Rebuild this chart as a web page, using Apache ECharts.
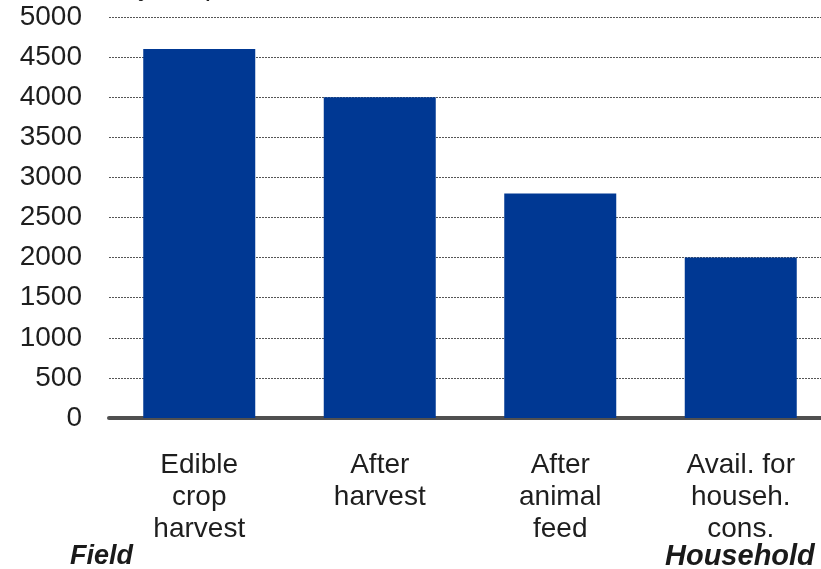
<!DOCTYPE html>
<html>
<head>
<meta charset="utf-8">
<script src="https://cdn.jsdelivr.net/npm/echarts@6/dist/echarts.min.js"></script>
<style>
  html, body { margin: 0; padding: 0; background: #fff; overflow: hidden; }
  /* the plot runs slightly past the right edge of the window */
  #chart { width: 832px; height: 569px; }
</style>
</head>
<body>
<div id="chart"></div>
<script>
// Food energy available at each stage, from field to household
const categories = ['Edible\ncrop\nharvest', 'After\nharvest', 'After\nanimal\nfeed', 'Avail. for\nhouseh.\ncons.'];
const kcalValues = [4600, 4000, 2800, 2000];
const yTicks = { min: 0, max: 5000, step: 500 };
const unitTitle = 'Kcal / day / cap';
const endLabels = ['Field', 'Household'];

const FONT = '"Liberation Sans", Arial, sans-serif';
const chart = echarts.init(document.getElementById('chart'), null, { renderer: 'canvas' });

chart.setOption({
  animation: false,
  backgroundColor: '#ffffff',
  grid: { left: 109, width: 722, top: 17, bottom: 151, containLabel: false },
  xAxis: {
    type: 'category',
    data: categories,
    axisLine: { show: true, lineStyle: { color: '#505050', width: 4 } },
    axisTick: { show: false },
    axisLabel: {
      interval: 0,
      margin: 31,
      fontFamily: FONT,
      fontSize: 28,
      lineHeight: 32,
      color: '#1e1e1e',
      align: 'center'
    }
  },
  yAxis: {
    type: 'value',
    min: yTicks.min,
    max: yTicks.max,
    interval: yTicks.step,
    axisLine: { show: false },
    axisTick: { show: false },
    axisLabel: {
      margin: 27,
      fontFamily: FONT,
      fontSize: 28,
      color: '#1e1e1e',
      formatter: (v) => String(v)
    },
    splitLine: { show: true, lineStyle: { color: '#555555', width: 1, type: [2, 1] } }
  },
  series: [{
    type: 'bar',
    data: kcalValues,
    barWidth: 112,
    itemStyle: { color: '#003893' },
    z: 1
  }],
  graphic: [
    {
      type: 'text',
      left: 29,
      top: -27,
      style: { text: unitTitle, font: '28px ' + FONT, fill: '#1e1e1e' }
    },
    {
      type: 'text',
      left: 70,
      top: 543,
      style: { text: endLabels[0], font: 'italic bold 27px ' + FONT, fill: '#1a1a1a' }
    },
    {
      type: 'text',
      left: 665,
      top: 542,
      style: { text: endLabels[1], font: 'italic bold 29px ' + FONT, fill: '#1a1a1a' }
    }
  ]
});
</script>
</body>
</html>
